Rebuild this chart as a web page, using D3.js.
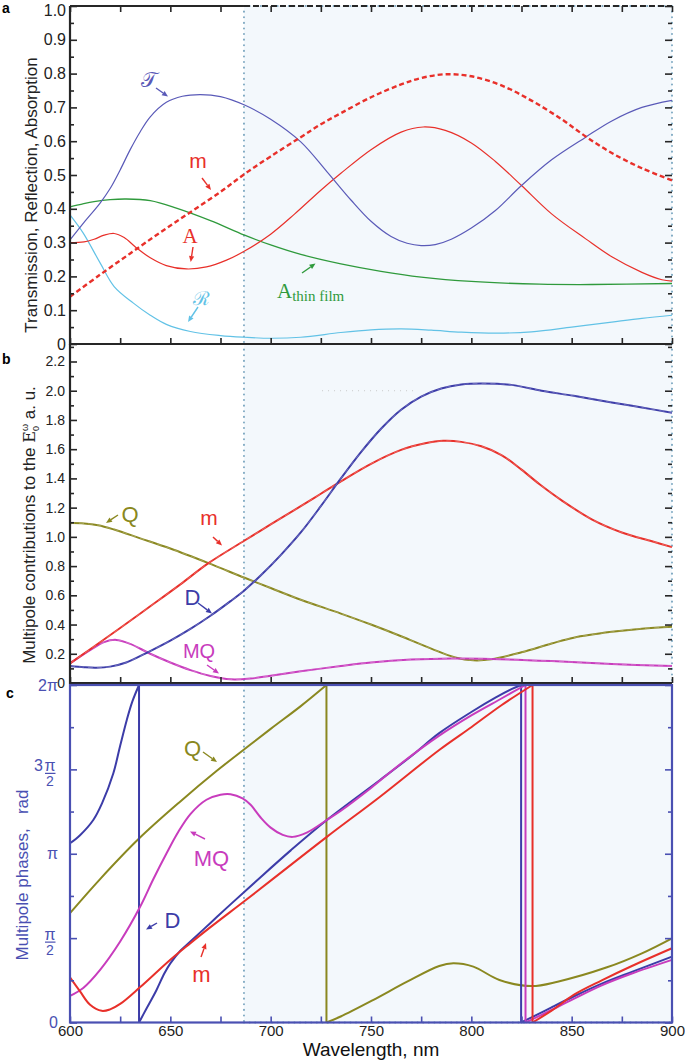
<!DOCTYPE html>
<html><head><meta charset="utf-8">
<script src="https://cdn.jsdelivr.net/npm/d3@7"></script>
<style>
body{margin:0;background:#fff}
svg{display:block}
text{font-family:"Liberation Sans",Arial,sans-serif}
</style>
</head><body>
<svg id="chart" width="685" height="1060"></svg>
<script>
// ================= DATA =================
const xTicks = [600,625,650,675,700,725,750,775,800,825,850,875,900];
const xLabels = [600,650,700,750,800,850,900];
const shadeStart = 686.7; // nm, start of shaded band
const aTicksMajor = [0,0.1,0.2,0.3,0.4,0.5,0.6,0.7,0.8,0.9,1.0];
const aTicksMinor = [0.05,0.15,0.25,0.35,0.45,0.55,0.65,0.75,0.85,0.95];
const bTicksMajor = [0,0.2,0.4,0.6,0.8,1.0,1.2,1.4,1.6,1.8,2.0,2.2];
const bTicksMinor = [0.1,0.3,0.5,0.7,0.9,1.1,1.3,1.5,1.7,1.9,2.1,2.3];
const cTicksMajor = [0,0.5,1,1.5,2];        // phase in units of pi
const cTicksMinor = [0.25,0.75,1.25,1.75];
const cTickLabels = ["0","π/2","π","3π/2","2π"];

// panel a: transmission, reflection, absorption  [wavelength nm, value]
const transmission = [[600,0.308],[607,0.36],[615,0.417],[620,0.46],[625,0.515],[630,0.575],[635,0.628],[640,0.672],[648,0.715],[656,0.733],[665,0.738],[675,0.732],[687,0.707],[700,0.665],[715,0.598],[728,0.51],[740,0.426],[750,0.363],[760,0.318],[768,0.298],[775,0.291],[782,0.294],[790,0.31],[800,0.343],[812,0.395],[825,0.469],[840,0.545],[857,0.612],[870,0.66],[885,0.70],[900,0.721]];
const absorption = [[600,0.30],[607,0.302],[612,0.31],[617,0.322],[622,0.327],[627,0.315],[633,0.285],[640,0.255],[648,0.232],[658,0.222],[668,0.228],[678,0.248],[687,0.275],[700,0.325],[712,0.385],[725,0.455],[735,0.505],[750,0.575],[765,0.627],[776,0.642],[787,0.632],[800,0.595],[812,0.54],[825,0.469],[840,0.385],[857,0.311],[870,0.258],[885,0.212],[895,0.19],[900,0.186]];
const magneticA = [[600,0.14],[615,0.205],[630,0.268],[645,0.33],[660,0.39],[675,0.45],[687,0.503],[700,0.555],[715,0.612],[725,0.65],[735,0.683],[750,0.73],[765,0.768],[775,0.787],[787,0.798],[800,0.792],[815,0.765],[830,0.72],[845,0.665],[857,0.614],[870,0.565],[885,0.52],[900,0.484]];
const absorptionFilm = [[600,0.406],[606,0.414],[612,0.421],[620,0.427],[628,0.429],[640,0.424],[653,0.402],[670,0.365],[687,0.322],[700,0.293],[715,0.265],[735,0.237],[755,0.215],[775,0.198],[800,0.185],[834,0.177],[860,0.176],[900,0.179]];
const reflection = [[600,0.382],[606.6,0.328],[615,0.24],[622,0.17],[631.6,0.121],[640,0.085],[648,0.058],[660,0.037],[675,0.025],[687,0.02],[700,0.017],[715,0.02],[735,0.034],[750,0.042],[765,0.045],[780,0.041],[795,0.035],[813,0.032],[830,0.036],[850,0.05],[870,0.065],[885,0.076],[900,0.085]];

// panel b: multipole contributions (a.u.)
const contribD = [[600,0.116],[607,0.108],[613,0.105],[620,0.112],[628,0.14],[638,0.205],[650,0.29],[660,0.37],[670,0.46],[680,0.56],[687,0.635],[695,0.735],[705,0.875],[715,1.03],[725,1.21],[735,1.40],[745,1.58],[755,1.74],[765,1.87],[775,1.96],[785,2.015],[795,2.043],[805,2.05],[820,2.04],[835,2.0],[851,1.965],[870,1.92],[885,1.885],[900,1.85]];
const contribM = [[600,0.134],[612,0.25],[625,0.376],[640,0.525],[655,0.675],[669,0.82],[687,0.975],[700,1.085],[715,1.21],[725,1.295],[735,1.38],[750,1.50],[765,1.595],[777,1.64],[786,1.657],[795,1.65],[805,1.62],[815,1.56],[825,1.46],[834,1.36],[845,1.25],[860,1.12],[875,1.03],[890,0.97],[900,0.93]];
const contribQ = [[600,1.094],[607,1.092],[614,1.08],[622,1.05],[635,0.99],[650,0.92],[669,0.82],[687,0.72],[700,0.65],[715,0.57],[735,0.475],[750,0.40],[765,0.32],[780,0.235],[792,0.175],[801,0.155],[810,0.162],[825,0.21],[840,0.27],[851,0.31],[870,0.35],[885,0.372],[900,0.385]];
const contribMQ = [[600,0.134],[610,0.225],[617,0.28],[623,0.295],[630,0.268],[640,0.2],[650,0.14],[660,0.088],[670,0.048],[680,0.025],[690,0.03],[700,0.05],[715,0.08],[735,0.116],[750,0.14],[770,0.16],[790,0.168],[810,0.165],[840,0.15],[870,0.13],[900,0.116]];

// panel c: multipole phases (units of pi), branches between 2pi wraps
const phaseD = [
  [[600,1.062],[605,1.11],[611.6,1.20],[616,1.30],[621.6,1.477],[625,1.64],[628.3,1.793],[631,1.90],[634.4,2.0]],
  [[634.4,0],[638,0.08],[643,0.19],[647,0.29],[650,0.35],[655,0.425],[660,0.48],[670,0.59],[680,0.70],[693,0.84],[710,1.02],[728,1.20],[754.5,1.437],[770,1.578],[784,1.715],[800,1.84],[812,1.925],[820,1.975],[824.8,2.0]],
  [[824.8,0],[830,0.03],[840,0.09],[851,0.154],[865,0.23],[880,0.30],[900,0.39]]
];
const phaseMQ = [
  [[600,0.158],[606.6,0.205],[615,0.312],[625,0.48],[635,0.687],[641.5,0.849],[648,1.0],[654,1.13],[660,1.235],[668,1.32],[675,1.35],[680,1.353],[686,1.328],[690,1.29],[695,1.215],[700,1.155],[706,1.112],[711,1.10],[718,1.125],[728,1.20],[735,1.255],[750,1.39],[765,1.535],[784,1.70],[800,1.82],[815,1.92],[827,2.0]],
  [[827,0],[835,0.045],[851,0.14],[865,0.22],[880,0.29],[900,0.371]]
];
const phaseM = [
  [[600,0.267],[605,0.184],[610,0.105],[615.8,0.069],[620,0.078],[625,0.11],[635,0.21],[650,0.372],[660,0.47],[670,0.565],[687,0.72],[700.5,0.845],[728,1.10],[754.5,1.338],[784,1.615],[800,1.75],[815,1.88],[830.5,2.0]],
  [[830.5,0],[840,0.07],[851,0.164],[865,0.25],[880,0.335],[900,0.44]]
];
const phaseQ = [
  [[600,0.648],[615,0.85],[634.4,1.09],[655,1.31],[673,1.49],[686.4,1.615],[700,1.74],[715,1.875],[727.8,2.0]],
  [[727.8,0],[734.6,0.034],[751,0.133],[768,0.242],[784,0.335],[791,0.351],[801,0.331],[814,0.252],[830,0.216],[843,0.242],[867.6,0.327],[885,0.41],[900,0.499]]
];

// ================= STYLE / LAYOUT =================
const C = {
  T:"#5a5ab8", red:"#e8302a", green:"#2f9a3c", R:"#62c2e6",
  olive:"#8a8820", mag:"#c83cbd", D:"#3c3ca8", axisBlue:"#4a50b2",
  frame:"#262626", shade:"#f3f8fc", shadeLine:"#7fa9c2"
};
const svg = d3.select("#chart");
const x  = d3.scaleLinear([600,900],[70,672]);
const ya = d3.scaleLinear([0,1],[344,6]);
const yb = d3.scaleLinear([0,2.2],[683,361.5]);
const yc = d3.scaleLinear([0,2],[1022.5,685]);
const panels = [{top:6,bot:344},{top:344,bot:683},{top:685,bot:1022.5}];
const smooth = d3.curveCatmullRom.alpha(0.5);

// shaded band
panels.forEach(p=>{
  svg.append("rect").attr("x",x(shadeStart)).attr("y",p.top)
    .attr("width",x(900)-x(shadeStart)).attr("height",p.bot-p.top).attr("fill",C.shade);
  const path = d3.path();
  path.moveTo(x(shadeStart),p.top); path.lineTo(x(shadeStart),p.bot);
  path.moveTo(x(shadeStart),p.bot); path.lineTo(x(900),p.bot);
  path.moveTo(x(900),p.top); path.lineTo(x(900),p.bot);
  path.moveTo(x(shadeStart),p.top); path.lineTo(x(900),p.top);
  svg.append("path").attr("d",path.toString()).attr("fill","none")
    .attr("stroke",C.shadeLine).attr("stroke-width",2).attr("stroke-dasharray","0.1,5.5")
    .attr("stroke-linecap","round");
});

// faint dotted artefact in panel b
svg.append("line").attr("x1",x(725.6)).attr("x2",x(771)).attr("y1",yb(2.0)).attr("y2",yb(2.0))
  .attr("stroke","#c9c9c9").attr("stroke-width",1).attr("stroke-dasharray","1,5");

function curve(data, ys, color, w, dash){
  const line = d3.line().x(d=>x(d[0])).y(d=>ys(d[1])).curve(smooth);
  const p = svg.append("path").datum(data).attr("d",line).attr("fill","none")
    .attr("stroke",color).attr("stroke-width",w).attr("stroke-linejoin","round");
  if(dash) p.attr("stroke-dasharray",dash);
  return p;
}
function overlay(data, ys){
  const line = d3.line().x(d=>x(d[0])).y(d=>ys(d[1])).curve(smooth);
  svg.append("path").datum(data).attr("d",line).attr("fill","none")
    .attr("stroke","#fff").attr("stroke-opacity",0.35).attr("stroke-width",0.7).attr("stroke-dasharray","5,4");
}
function branches(segs, color, w){
  segs.forEach(s=>curve(s, yc, color, w));
  const lin = d3.line().x(d=>x(d[0])).y(d=>yc(d[1]));
  for(let i=0;i<segs.length-1;i++){
    svg.append("path").datum([segs[i][segs[i].length-1], segs[i+1][0]]).attr("d",lin)
      .attr("fill","none").attr("stroke",color).attr("stroke-width",w);
  }
}

// ---- panel a curves
curve(reflection, ya, C.R, 1.2);
curve(absorptionFilm, ya, C.green, 1.3);
curve(absorption, ya, C.red, 1.2);
curve(transmission, ya, C.T, 1.2);
curve(magneticA, ya, C.red, 2.4, "5,3");

// ---- panel b curves
[[contribQ,C.olive],[contribMQ,C.mag],[contribM,C.red],[contribD,C.D]].forEach(([d,c])=>{
  curve(d, yb, c, 2); overlay(d, yb);
});

// ---- panel c curves
branches(phaseQ, C.olive, 2);
branches(phaseD, C.D, 2);
branches(phaseMQ, C.mag, 2);
branches(phaseM, C.red, 2);

// ================= AXES =================
function addAxis(gen, tr, values, size, fmt, o={}){
  const ax = gen.tickValues(values).tickSize(size).tickPadding(o.pad ?? 4).tickFormat(fmt || (()=>""));
  const g = svg.append("g").attr("transform",tr).call(ax);
  g.select(".domain").remove();
  g.selectAll(".tick line").attr("stroke",o.color||C.frame).attr("stroke-width",o.sw||1.6);
  g.selectAll(".tick text").attr("fill",o.tc||"#222").style("font-size",(o.fs||15)+"px");
  return g;
}
const fmt1 = d => d===0 ? "0" : d.toFixed(1);

// panel a
addAxis(d3.axisBottom(x), "translate(0,344)", xTicks, -6);
addAxis(d3.axisTop(x), "translate(0,6)", xTicks, -6);
const aLeft = addAxis(d3.axisLeft(ya), "translate(70,0)", aTicksMajor, -7, fmt1, {fs:16, pad:4});
aLeft.selectAll(".tick text").filter(d=>d===1).attr("dy","0.62em"); // keep top label inside page
addAxis(d3.axisLeft(ya), "translate(70,0)", aTicksMinor, -4);
addAxis(d3.axisRight(ya), "translate(672,0)", aTicksMajor, -7);
addAxis(d3.axisRight(ya), "translate(672,0)", aTicksMinor, -4);
// panel b
addAxis(d3.axisBottom(x), "translate(0,683)", xTicks, -6);
addAxis(d3.axisLeft(yb), "translate(70,0)", bTicksMajor, -7, fmt1, {fs:14, pad:5});
addAxis(d3.axisLeft(yb), "translate(70,0)", bTicksMinor, -4);
addAxis(d3.axisRight(yb), "translate(672,0)", bTicksMajor, -7);
addAxis(d3.axisRight(yb), "translate(672,0)", bTicksMinor, -4);
// panel c
addAxis(d3.axisBottom(x), "translate(0,1022.5)", xTicks, -6, null, {color:C.axisBlue});
addAxis(d3.axisBottom(x), "translate(0,1022.5)", xLabels, 0, d=>d, {fs:15, pad:2.5});
addAxis(d3.axisLeft(yc), "translate(70,0)", cTicksMajor, -7, null, {color:C.axisBlue});
addAxis(d3.axisLeft(yc), "translate(70,0)", cTicksMinor, -4, null, {color:C.axisBlue});
addAxis(d3.axisRight(yc), "translate(672,0)", cTicksMajor, -7, null, {color:C.axisBlue});
addAxis(d3.axisRight(yc), "translate(672,0)", cTicksMinor, -4, null, {color:C.axisBlue});

// pi tick labels
const pl = svg.append("g").attr("fill",C.axisBlue);
cTicksMajor.forEach((v,i)=>{
  const lab = cTickLabels[i], yy = yc(v);
  if(lab.includes("/")){
    const coef = lab.startsWith("3") ? "3" : "";
    pl.append("text").attr("x",50).attr("y",yy+2).attr("text-anchor","middle").style("font-size","16px").text("π");
    pl.append("line").attr("x1",45).attr("x2",55.5).attr("y1",yy+4).attr("y2",yy+4).attr("stroke",C.axisBlue).attr("stroke-width",1.2);
    pl.append("text").attr("x",50).attr("y",yy+17).attr("text-anchor","middle").style("font-size","14px").text("2");
    if(coef) pl.append("text").attr("x",43).attr("y",yy+2).attr("text-anchor","end").style("font-size","16px").text(coef);
  } else {
    pl.append("text").attr("x",58).attr("y",yy+5.5).attr("text-anchor","end").style("font-size","16px").text(lab);
  }
});

// frames
const fr = svg.append("g").attr("fill","none");
fr.append("path").attr("d",`M${x(600)},${ya(1)}V${ya(0)}H${x(900)}`).attr("stroke",C.frame).attr("stroke-width",2.2);
fr.append("path").attr("d",`M${x(600)},${ya(1)}H${x(shadeStart)}`).attr("stroke",C.frame).attr("stroke-width",2.2);
fr.append("path").attr("d",`M${x(shadeStart)},${ya(1)}H${x(900)}`).attr("stroke",C.frame).attr("stroke-width",2).attr("stroke-dasharray","6,3");
fr.append("path").attr("d",`M${x(600)},${ya(0)}V${yb(0)}H${x(900)}`).attr("stroke",C.frame).attr("stroke-width",2.2);
fr.append("rect").attr("x",x(600)).attr("y",yc(2)).attr("width",x(900)-x(600)).attr("height",yc(0)-yc(2))
  .attr("stroke",C.axisBlue).attr("stroke-width",2.2);

// ================= TEXT =================
svg.append("text").attr("x",2).attr("y",13).style("font-size","14px").style("font-weight","bold").text("a");
svg.append("text").attr("x",2).attr("y",364).style("font-size","14px").style("font-weight","bold").text("b");
svg.append("text").attr("x",6).attr("y",698).style("font-size","14px").style("font-weight","bold").text("c");

svg.append("text").attr("transform","translate(37,195) rotate(-90)").attr("text-anchor","middle")
  .style("font-size","17px").attr("fill","#222").text("Transmission, Reflection, Absorption");
const tb = svg.append("text").attr("transform","translate(35,525) rotate(-90)").attr("text-anchor","middle")
  .style("font-size","17px").attr("fill","#222");
tb.append("tspan").text("Multipole contributions to the ");
tb.append("tspan").style("font-family","'DejaVu Serif',serif").style("font-size","16px").text("E");
tb.append("tspan").style("font-size","9px").attr("dy",4).text("0");
tb.append("tspan").style("font-size","9px").attr("dx",-5).attr("dy",-11).text("ω");
tb.append("tspan").attr("dy",7).text(" a. u.");
svg.append("text").attr("transform","translate(28,875) rotate(-90)").attr("text-anchor","middle")
  .style("font-size","17px").attr("fill",C.axisBlue).attr("xml:space","preserve").text("Multipole phases,   rad");
svg.append("text").attr("x",371).attr("y",1056).attr("text-anchor","middle").style("font-size","19px").attr("fill","#111").text("Wavelength, nm");

// annotations
const serif = "'Liberation Serif','DejaVu Serif',serif";
const notes = [
  {t:"𝒯", x:149, y:87, c:C.T, fs:21, f:serif, a:[156,88,168,96.5]},
  {t:"m", x:198, y:168, c:C.red, fs:21, a:[202,178,211,190]},
  {t:"A", x:190, y:243, c:C.red, fs:21, f:serif, a:[193,247,190.7,262]},
  {t:"ℛ", x:201, y:305, c:C.R, fs:19, f:serif, a:[198,307,188,322]},
  {t:"Q", x:130, y:522, c:C.olive, fs:22, a:[118,515,106,523]},
  {t:"m", x:209, y:525, c:C.red, fs:21, a:[213,537,222,545.5]},
  {t:"D", x:192.5, y:605, c:C.D, fs:22, a:[198,603,212,613.5]},
  {t:"MQ", x:199, y:658, c:C.mag, fs:20, a:[207,665,219,673.5]},
  {t:"Q", x:192.5, y:756, c:C.olive, fs:22, a:[203,752,217,762]},
  {t:"MQ", x:211.5, y:866, c:C.mag, fs:22, a:[205,839,190,831.5]},
  {t:"D", x:172.5, y:928, c:C.D, fs:22, a:[157,923,146,929.5]},
  {t:"m", x:201.5, y:982, c:C.red, fs:22, a:[201,957,206,943]}
];
function arrow(x1,y1,x2,y2,c){
  const ang = Math.atan2(y2-y1,x2-x1), L=6, Wd=2.6;
  const bx = x2-L*Math.cos(ang), by = y2-L*Math.sin(ang);
  svg.append("line").attr("x1",x1).attr("y1",y1).attr("x2",bx).attr("y2",by).attr("stroke",c).attr("stroke-width",1.4);
  const px = -Math.sin(ang)*Wd, py = Math.cos(ang)*Wd;
  svg.append("path").attr("d",`M${x2},${y2}L${bx+px},${by+py}L${bx-px},${by-py}Z`).attr("fill",c);
}
notes.forEach(n=>{
  const t = svg.append("text").attr("x",n.x).attr("y",n.y).attr("text-anchor","middle")
    .style("font-size",n.fs+"px").attr("fill",n.c).text(n.t);
  if(n.f) t.style("font-family",n.f);
  arrow(...n.a, n.c);
});
const af = svg.append("text").attr("x",277).attr("y",298).attr("fill",C.green)
  .style("font-family",serif).style("font-size","21px");
af.append("tspan").text("A");
af.append("tspan").style("font-size","15px").attr("dy",3).text("thin film");
arrow(302,273,315.5,263.5,C.green);
</script>
</body></html>
